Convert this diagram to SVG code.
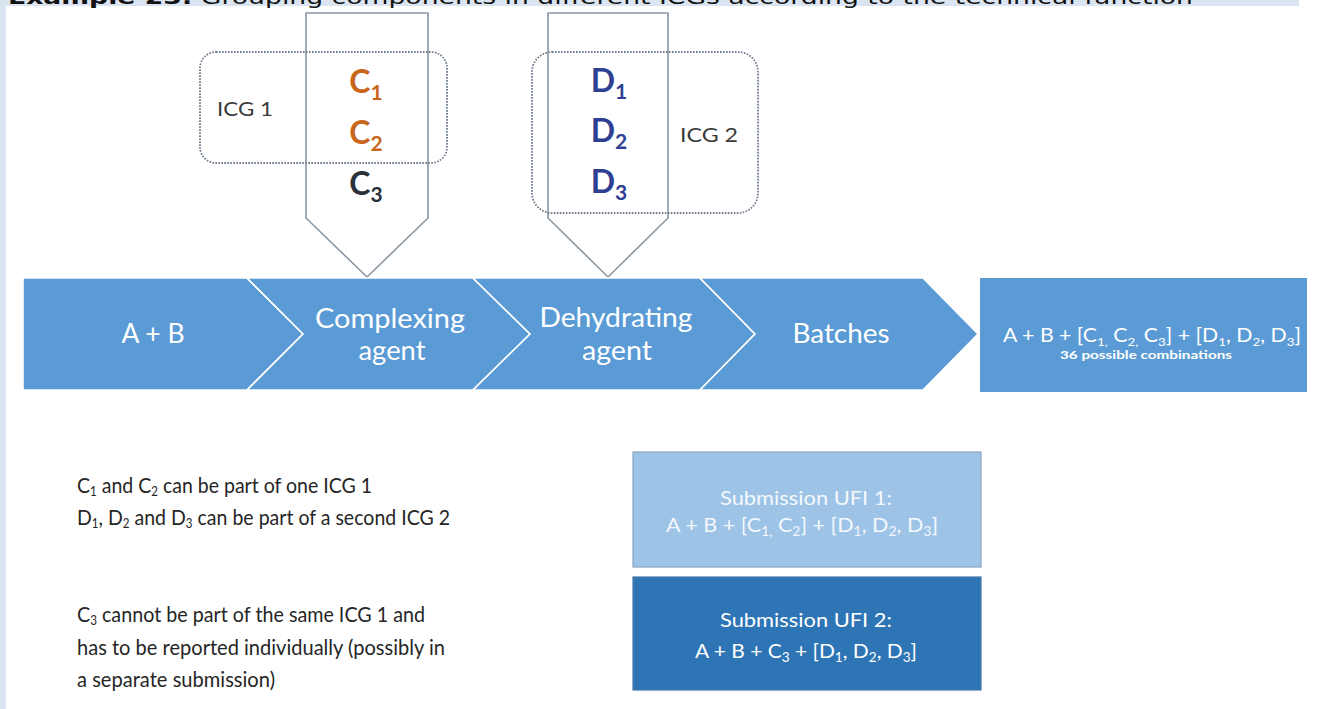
<svg xmlns="http://www.w3.org/2000/svg" width="1319" height="709" viewBox="0 0 1319 709">
  <style>
    .title { font-family: "DejaVu Sans", Verdana, sans-serif; font-size: 20px; fill: #111; }
    .stage { fill: #5b9bd5; stroke: #ffffff; stroke-width: 1.6; }
    .stage-label { font-family: Lato, "Open Sans", sans-serif; font-size: 26px; fill: #ffffff; text-anchor: middle; }
    .feeder { fill: #ffffff; stroke: #8a97a6; stroke-width: 1.6; }
    .icg { fill: none; stroke: #6f7c8e; stroke-width: 1.8; stroke-dasharray: 1.6 1.4; }
    .icg-label { font-family: Lato, "Open Sans", sans-serif; font-size: 20px; fill: #3a3a3a; }
    .comp { font-family: Lato, "Open Sans", sans-serif; font-size: 32px; font-weight: 700; text-anchor: middle; }
    .comp .sub { font-size: 21px; }
    .orange { fill: #c8661c; }
    .dark { fill: #2b313b; }
    .indigo { fill: #2f3f93; }
    .result { font-family: Lato, "Open Sans", sans-serif; fill: #ffffff; text-anchor: middle; }
    .note { font-family: Lato, "Open Sans", sans-serif; font-size: 22px; fill: #262626; }
    .note .sub { font-size: 13px; }
    .sub-box { font-family: Lato, "Open Sans", sans-serif; font-size: 20px; text-anchor: middle; }
  </style>

  <!-- page background -->
  <rect x="0" y="0" width="1319" height="709" fill="#ffffff"/>
  <rect x="0" y="0" width="1299" height="6" fill="#dbe5f1"/>
  <rect x="0" y="0" width="6" height="709" fill="#dbe5f1"/>

  <g id="title">
    <text class="title" x="8" y="4" textLength="1185" lengthAdjust="spacingAndGlyphs"><tspan font-weight="700">Example 23:</tspan> Grouping components in different ICGs according to the technical function</text>
  </g>

  <!-- feeder arrows pointing down into the process band -->
  <g id="feeder-complexing">
    <polygon class="feeder" points="306,13 428,13 428,218 367,277 306,218"/>
  </g>
  <g id="feeder-dehydrating">
    <polygon class="feeder" points="548,13 668,13 668,218 608,277 548,218"/>
  </g>

  <!-- ICG groupings -->
  <g id="icg1">
    <rect class="icg" x="200" y="52" width="247" height="111" rx="16"/>
    <text class="icg-label" x="217" y="116" textLength="56" lengthAdjust="spacingAndGlyphs">ICG 1</text>
  </g>
  <g id="icg2">
    <rect class="icg" x="532" y="52" width="226" height="161" rx="20"/>
    <text class="icg-label" x="680" y="142" textLength="58" lengthAdjust="spacingAndGlyphs">ICG 2</text>
  </g>

  <!-- components -->
  <g id="components-c">
    <text class="comp orange" x="366" y="93">C<tspan class="sub" dy="7">1</tspan></text>
    <text class="comp orange" x="366" y="144">C<tspan class="sub" dy="7">2</tspan></text>
    <text class="comp dark" x="366" y="195">C<tspan class="sub" dy="7">3</tspan></text>
  </g>
  <g id="components-d">
    <text class="comp indigo" x="609" y="92">D<tspan class="sub" dy="7">1</tspan></text>
    <text class="comp indigo" x="609" y="142">D<tspan class="sub" dy="7">2</tspan></text>
    <text class="comp indigo" x="609" y="193">D<tspan class="sub" dy="7">3</tspan></text>
  </g>

  <!-- process band -->
  <g id="stage-ab">
    <polygon class="stage" points="23,278 247,278 303,334 247,390 23,390"/>
    <text class="stage-label" x="153" y="343" textLength="63" lengthAdjust="spacingAndGlyphs">A + B</text>
  </g>
  <g id="stage-complexing">
    <polygon class="stage" points="247,278 473,278 530,334 473,390 247,390 303,334"/>
    <text class="stage-label" x="390" y="328" textLength="150" lengthAdjust="spacingAndGlyphs">Complexing</text>
    <text class="stage-label" x="392" y="360" textLength="67" lengthAdjust="spacingAndGlyphs">agent</text>
  </g>
  <g id="stage-dehydrating">
    <polygon class="stage" points="473,278 700,278 755,334 700,390 473,390 530,334"/>
    <text class="stage-label" x="616" y="327" textLength="153" lengthAdjust="spacingAndGlyphs">Dehydrating</text>
    <text class="stage-label" x="617" y="360" textLength="70" lengthAdjust="spacingAndGlyphs">agent</text>
  </g>
  <g id="stage-batches">
    <polygon class="stage" points="700,278 923,278 978,334 923,390 700,390 755,334"/>
    <text class="stage-label" x="841" y="343" textLength="97" lengthAdjust="spacingAndGlyphs">Batches</text>
  </g>

  <!-- resulting combinations -->
  <g id="combinations">
    <rect x="980" y="278" width="327" height="114" fill="#5b9bd5"/>
    <text class="result" x="1152" y="342" font-size="19" textLength="298" lengthAdjust="spacingAndGlyphs">A + B + [C<tspan font-size="12" dy="4">1,</tspan><tspan dy="-4"> C</tspan><tspan font-size="12" dy="4">2,</tspan><tspan dy="-4"> C</tspan><tspan font-size="12" dy="4">3</tspan><tspan dy="-4">] + [D</tspan><tspan font-size="12" dy="4">1</tspan><tspan dy="-4">, D</tspan><tspan font-size="12" dy="4">2</tspan><tspan dy="-4">, D</tspan><tspan font-size="12" dy="4">3</tspan><tspan dy="-4">]</tspan></text>
    <text class="result" x="1146" y="359" font-size="12" font-weight="700" textLength="172" lengthAdjust="spacingAndGlyphs">36 possible combinations</text>
  </g>

  <!-- explanatory notes -->
  <g id="note-icg">
    <text class="note" x="77" y="493" textLength="295" lengthAdjust="spacingAndGlyphs">C<tspan class="sub" dy="3">1</tspan><tspan dy="-3"> and C</tspan><tspan class="sub" dy="3">2</tspan><tspan dy="-3"> can be part of one ICG 1</tspan></text>
    <text class="note" x="77" y="525" textLength="373" lengthAdjust="spacingAndGlyphs">D<tspan class="sub" dy="3">1</tspan><tspan dy="-3">, D</tspan><tspan class="sub" dy="3">2</tspan><tspan dy="-3"> and D</tspan><tspan class="sub" dy="3">3</tspan><tspan dy="-3"> can be part of a second ICG 2</tspan></text>
  </g>
  <g id="note-c3">
    <text class="note" x="77" y="622" textLength="348" lengthAdjust="spacingAndGlyphs">C<tspan class="sub" dy="3">3</tspan><tspan dy="-3"> cannot be part of the same ICG 1 and</tspan></text>
    <text class="note" x="77" y="655" textLength="368" lengthAdjust="spacingAndGlyphs">has to be reported individually (possibly in</text>
    <text class="note" x="77" y="687" textLength="198" lengthAdjust="spacingAndGlyphs">a separate submission)</text>
  </g>

  <!-- submissions -->
  <g id="submission-ufi1">
    <rect x="633" y="452" width="348" height="115" fill="#9dc3e6" stroke="#8aa6c4" stroke-width="1.2"/>
    <text class="sub-box" x="806" y="505" fill="#f4f8fc" textLength="172" lengthAdjust="spacingAndGlyphs">Submission UFI 1:</text>
    <text class="sub-box" x="802" y="532" fill="#f4f8fc" textLength="272" lengthAdjust="spacingAndGlyphs">A + B + [C<tspan font-size="13" dy="4">1,</tspan><tspan dy="-4"> C</tspan><tspan font-size="13" dy="4">2</tspan><tspan dy="-4">] + [D</tspan><tspan font-size="13" dy="4">1</tspan><tspan dy="-4">, D</tspan><tspan font-size="13" dy="4">2</tspan><tspan dy="-4">, D</tspan><tspan font-size="13" dy="4">3</tspan><tspan dy="-4">]</tspan></text>
  </g>
  <g id="submission-ufi2">
    <rect x="633" y="577" width="348" height="113" fill="#2e75b6" stroke="#4a78a8" stroke-width="1.2"/>
    <text class="sub-box" x="806" y="627" fill="#ffffff" textLength="172" lengthAdjust="spacingAndGlyphs">Submission UFI 2:</text>
    <text class="sub-box" x="806" y="658" fill="#ffffff" textLength="222" lengthAdjust="spacingAndGlyphs">A + B + C<tspan font-size="13" dy="4">3</tspan><tspan dy="-4"> + [D</tspan><tspan font-size="13" dy="4">1</tspan><tspan dy="-4">, D</tspan><tspan font-size="13" dy="4">2</tspan><tspan dy="-4">, D</tspan><tspan font-size="13" dy="4">3</tspan><tspan dy="-4">]</tspan></text>
  </g>
</svg>
